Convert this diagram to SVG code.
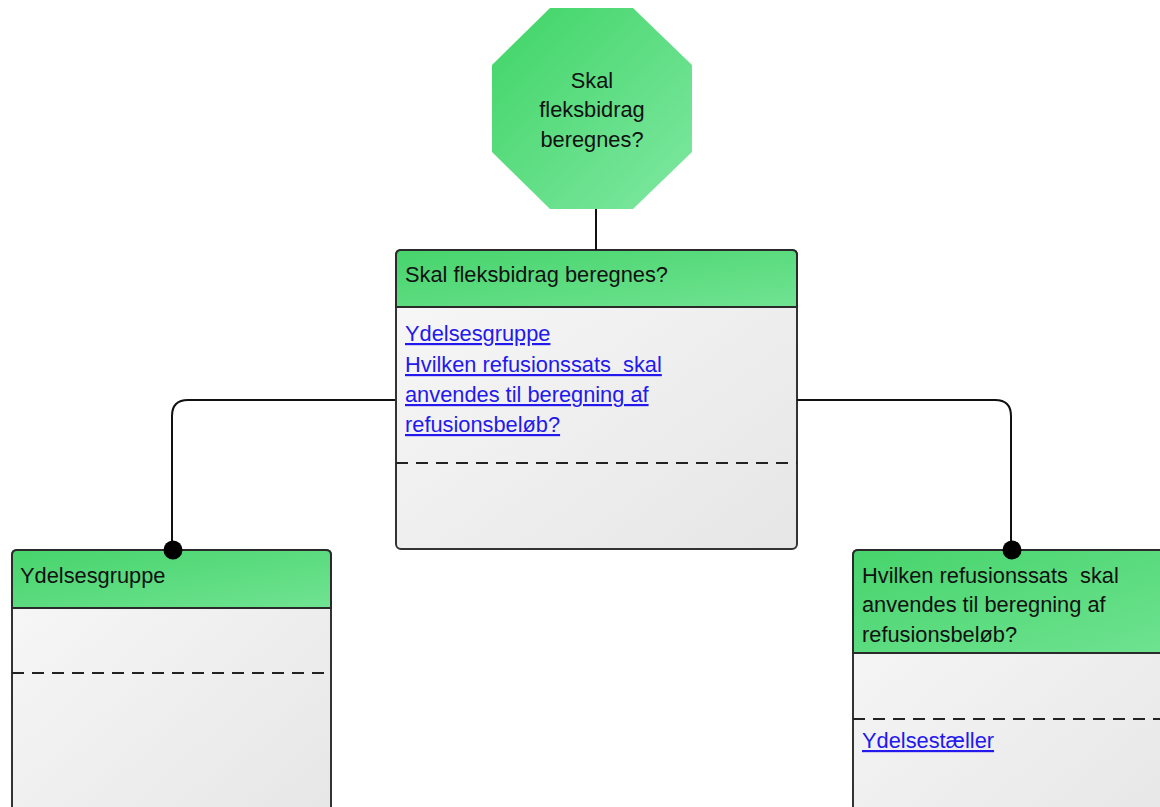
<svg xmlns="http://www.w3.org/2000/svg" width="1160" height="807" viewBox="0 0 1160 807">
<defs>
<linearGradient id="gHead" x1="0" y1="0" x2="1" y2="1">
<stop offset="0" stop-color="#47d46c"/>
<stop offset="1" stop-color="#70e392"/>
</linearGradient>
<linearGradient id="gOct" x1="0" y1="0" x2="1" y2="1">
<stop offset="0" stop-color="#3fd466"/>
<stop offset="1" stop-color="#80e8a2"/>
</linearGradient>
<linearGradient id="gBody" x1="0" y1="0" x2="1" y2="1">
<stop offset="0" stop-color="#f8f8f8"/>
<stop offset="1" stop-color="#e6e6e6"/>
</linearGradient>
</defs>
<style>
text{font-family:"Liberation Sans",Arial,sans-serif;font-size:21.8px;fill:#111;white-space:pre;}
.link{fill:#2318ee;text-decoration:underline;}
.body{fill:url(#gBody);stroke:#333;stroke-width:2;}
.head{fill:url(#gHead);stroke:#2a2a2a;stroke-width:2;}
.dash{stroke:#222;stroke-width:2;stroke-dasharray:12 8;fill:none;}
.conn{stroke:#111;stroke-width:2;fill:none;}
</style>
<rect width="1160" height="807" fill="#ffffff"/>
<g id="start">
<polygon points="550,8 633,8 692,65 692,152 633,209 550,209 492,152 492,65" fill="url(#gOct)"/>
<text x="592" y="88" text-anchor="middle">Skal</text>
<text x="592" y="117" text-anchor="middle">fleksbidrag</text>
<text x="592" y="147" text-anchor="middle">beregnes?</text>
</g>
<g id="node-main">
<rect class="body" x="396" y="250" width="401" height="299" rx="5"/>
<path class="head" d="M396,307 V255 Q396,250 401,250 H792 Q797,250 797,255 V307 Z"/>
<text x="405" y="282">Skal fleksbidrag beregnes?</text>
<text class="link" x="405" y="341">Ydelsesgruppe</text>
<text class="link" x="405" y="372" xml:space="preserve">Hvilken refusionssats  skal</text>
<text class="link" x="405" y="402">anvendes til beregning af</text>
<text class="link" x="405" y="432">refusionsbeløb?</text>
<line class="dash" x1="396" y1="463" x2="797" y2="463"/>
</g>
<g id="node-ydelsesgruppe">
<rect class="body" x="12" y="550" width="319" height="280" rx="5"/>
<path class="head" d="M12,608 V555 Q12,550 17,550 H326 Q331,550 331,555 V608 Z"/>
<text x="20" y="583">Ydelsesgruppe</text>
<line class="dash" x1="12" y1="673" x2="331" y2="673"/>
</g>
<g id="node-refusionssats">
<rect class="body" x="853" y="550" width="340" height="280" rx="5"/>
<path class="head" d="M853,653 V555 Q853,550 858,550 H1188 Q1193,550 1193,555 V653 Z"/>
<text x="862" y="583" xml:space="preserve">Hvilken refusionssats  skal</text>
<text x="862" y="612">anvendes til beregning af</text>
<text x="862" y="642">refusionsbeløb?</text>
<line class="dash" x1="853" y1="719" x2="1193" y2="719"/>
<text class="link" x="862" y="748">Ydelsestæller</text>
</g>
<g id="connectors">
<line class="conn" x1="596" y1="209" x2="596" y2="250"/>
<path class="conn" d="M395,400 H188 Q172,400 172,416 V550"/>
<circle cx="173" cy="550" r="9.5" fill="#000"/>
<path class="conn" d="M797,400 H995 Q1011,400 1011,416 V550"/>
<circle cx="1012" cy="550" r="9.5" fill="#000"/>
</g>
</svg>
